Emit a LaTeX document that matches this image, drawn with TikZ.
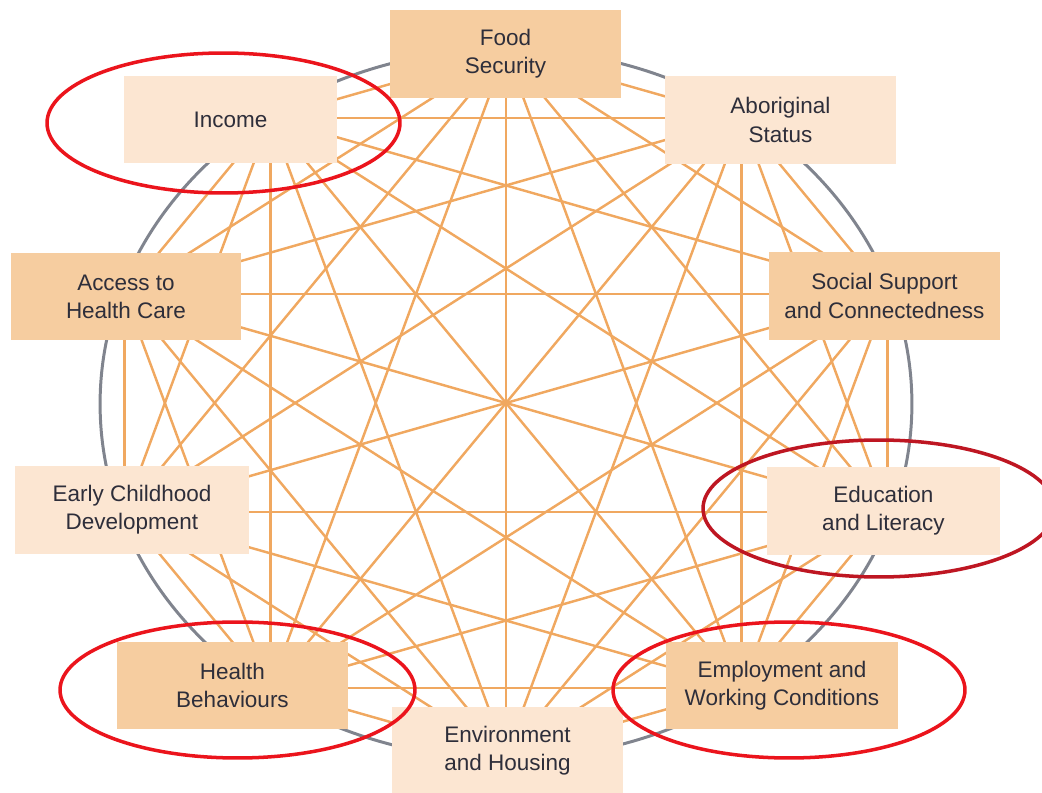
\documentclass[tikz,border=0pt]{standalone}
\usepackage{fontspec}
\setmainfont{Liberation Sans}
\usepackage{tikz}
\definecolor{boxdark}{RGB}{246,205,160}
\definecolor{boxlight}{RGB}{252,230,210}
\definecolor{linkcol}{RGB}{240,168,96}
\definecolor{rimcol}{RGB}{128,132,142}
\definecolor{txtcol}{RGB}{46,46,58}
\definecolor{ringred}{RGB}{235,20,28}
\definecolor{ringdark}{RGB}{190,22,34}
\newcommand{\factorbox}[5]{\node[factor,fill=#2,minimum width=#3] (#1) at (#4) {#5}; }
\newcommand{\markring}[4]{\draw[ringline,#1] (#2) ellipse [x radius=#3, y radius=#4]; }

\begin{document}
\begin{tikzpicture}[x=0.02cm,y=-0.02cm,
  factor/.style={rectangle,minimum height=1.76cm,inner sep=2pt,align=center,
    text=txtcol,font=\fontsize{12.8}{16}\selectfont},
  link/.style={draw=linkcol,line width=1.4pt},
  rim/.style={draw=rimcol,line width=1.7pt},
  ringline/.style={line width=2pt}]
  \useasboundingbox (0,0) rectangle (1042,793);
  \draw[rim] (506,404) ellipse [x radius=8.12cm, y radius=7.1cm];
  % points on the circle, every one joined to every other
  \foreach \i in {0,...,9}
    \coordinate (p\i) at ({506+401*cos(90-36*\i)},{403-352*sin(90-36*\i)});
  \foreach \i in {0,...,9}
    \foreach \j in {0,...,9}
      {\ifnum\i<\j \draw[link] (p\i) -- (p\j); \fi}
  \factorbox{food}{boxdark}{4.62cm}{505.5,54}{Food\\Security}
  \factorbox{aboriginal}{boxlight}{4.62cm}{780.5,120}{Aboriginal\\Status}
  \factorbox{social}{boxdark}{4.62cm}{884.5,296}{Social Support\\and Connectedness}
  \factorbox{education}{boxlight}{4.66cm}{883.5,511}{Education\\and Literacy}
  \factorbox{employment}{boxdark}{4.66cm}{782,685.5}{Employment and\\Working Conditions}
  \factorbox{environment}{boxlight}{4.62cm}{507.5,750.5}{Environment\\and Housing}
  \factorbox{health}{boxdark}{4.62cm}{232.5,685.5}{Health\\Behaviours}
  \factorbox{early}{boxlight}{4.68cm}{132,510}{Early Childhood\\Development}
  \factorbox{access}{boxdark}{4.6cm}{126,296.5}{Access to\\Health Care}
  \factorbox{income}{boxlight}{4.26cm}{230.5,119.5}{Income}
  % highlighted factors
  \markring{ringred}{223.5,123}{3.53cm}{1.4cm}
  \markring{ringdark}{879,508.5}{3.52cm}{1.37cm}
  \markring{ringred}{237.5,690}{3.55cm}{1.36cm}
  \markring{ringred}{789,690}{3.52cm}{1.36cm}
\end{tikzpicture}
\end{document}
